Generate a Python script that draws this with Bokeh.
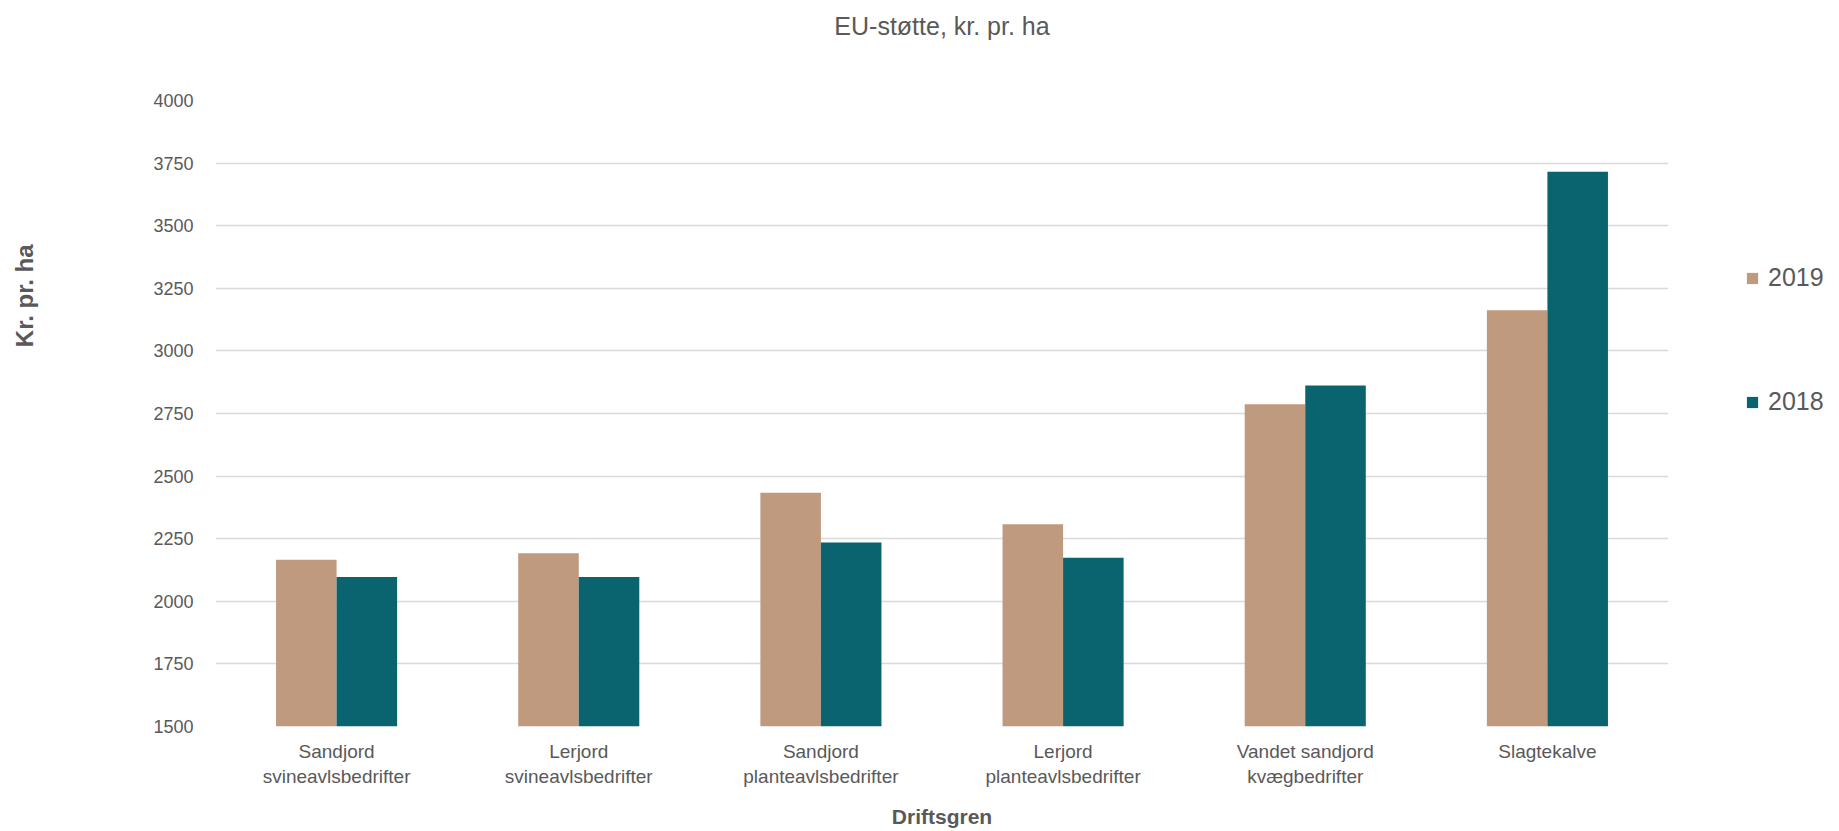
from bokeh.plotting import figure
from bokeh.models import Range1d, FactorRange, FixedTicker, Legend, LegendItem, Title
from bokeh.transform import dodge
from bokeh.embed import file_html
from bokeh.resources import INLINE

categories = ["Sandjord\nsvineavlsbedrifter", "Lerjord\nsvineavlsbedrifter",
              "Sandjord\nplanteavlsbedrifter", "Lerjord\nplanteavlsbedrifter",
              "Vandet sandjord\nkvægbedrifter", "Slagtekalve"]
series_names = ["2019", "2018"]
values_2019 = [2166, 2192, 2434, 2308, 2787, 3162]
values_2018 = [2097, 2097, 2235, 2174, 2862, 3715]
y_ticks = [1500, 1750, 2000, 2250, 2500, 2750, 3000, 3250, 3500, 3750, 4000]

C2019 = "#BF9A7F"
C2018 = "#096470"
GREY = "#595959"
FONT = "Liberation Sans"

p = figure(frame_width=1453, frame_height=626, output_backend="svg", toolbar_location=None,
           title=None,
           x_range=FactorRange(factors=categories, range_padding=0),
           y_range=Range1d(1500, 4000),
           min_border_left=215, min_border_right=171, min_border_top=100, min_border_bottom=105)

src = dict(cat=categories, v19=values_2019, v18=values_2018)
r1 = p.vbar(x=dodge("cat", -0.125, range=p.x_range), top="v19", bottom=1500, width=0.25,
            source=src, fill_color=C2019, line_color=None)
r2 = p.vbar(x=dodge("cat", 0.125, range=p.x_range), top="v18", bottom=1500, width=0.25,
            source=src, fill_color=C2018, line_color=None)

# spacer between frame and title (closest to frame), then the title itself
p.add_layout(Title(text=" ", standoff=58, text_font_size="1px"), "above")
p.add_layout(Title(text="EU-støtte, kr. pr. ha", align="center", standoff=0,
                   text_font=FONT, text_font_size="25px", text_font_style="normal",
                   text_color=GREY), "above")

p.outline_line_color = None
p.xgrid.grid_line_color = None
p.ygrid.grid_line_color = "#D9D9D9"
p.ygrid.grid_line_width = 1.5

p.yaxis.ticker = FixedTicker(ticks=y_ticks)
for ax in (p.xaxis[0], p.yaxis[0]):
    ax.axis_line_color = None
    ax.major_tick_line_color = None
    ax.minor_tick_line_color = None
    ax.major_label_text_color = GREY
    ax.major_label_text_font = FONT
    ax.axis_label_text_color = GREY
    ax.axis_label_text_font = FONT
    ax.axis_label_text_font_style = "bold"

p.yaxis.major_label_text_font_size = "18px"
p.yaxis.major_label_standoff = 16

p.add_layout(Title(text=" ", standoff=110, text_font_size="1px"), "left")
p.add_layout(Title(text="Kr. pr. ha", align="right", offset=144, standoff=0,
                   text_font=FONT, text_font_size="24px", text_font_style="bold",
                   text_color=GREY), "left")

p.xaxis.major_label_text_font_size = "19px"
p.xaxis.major_label_standoff = 8
p.xaxis.axis_label = "Driftsgren"
p.xaxis.axis_label_text_font_size = "21px"
p.xaxis.axis_label_standoff = 15

legend = Legend(items=[LegendItem(label=series_names[0], renderers=[r1]),
                       LegendItem(label=series_names[1], renderers=[r2])],
                location=(77, 310), orientation="vertical", padding=0, margin=0,
                border_line_alpha=0, background_fill_alpha=0,
                glyph_width=14, glyph_height=14, label_height=28, label_standoff=9,
                spacing=95, label_text_font=FONT, label_text_font_size="25px",
                label_text_color=GREY)
p.add_layout(legend, "right")

open("out.html", "w").write(file_html(p, INLINE))
